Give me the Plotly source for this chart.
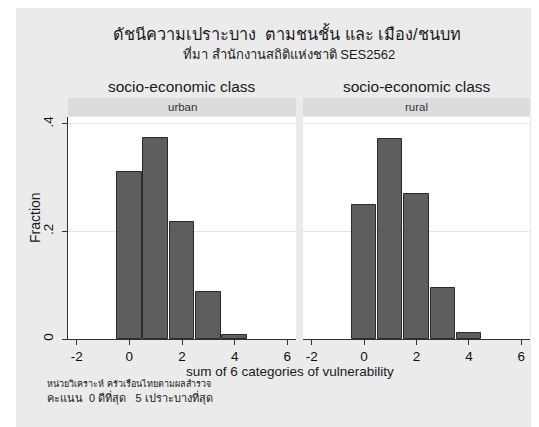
import plotly.graph_objects as go

# ---- data ----
scores = [0, 1, 2, 3, 4]
urban_frac = [0.311, 0.374, 0.217, 0.087, 0.008]
rural_frac = [0.249, 0.372, 0.269, 0.095, 0.012]
panels = ["urban", "rural"]
x_ticks = [-2, 0, 2, 4, 6]
x_ticktext = ["-2", "0", "2", "4", "6"]
y_ticks = [0, 0.2, 0.4]
y_ticktext = ["0", ".2", ".4"]

title_text = "ดัชนีความเปราะบาง  ตามชนชั้น และ เมือง/ชนบท"
subtitle_text = "ที่มา สำนักงานสถิติแห่งชาติ SES2562"
by_text = "socio-economic class"
xtitle_text = "sum of 6 categories of vulnerability"
note1 = "หน่วยวิเคราะห์ ครัวเรือนไทยตามผลสำรวจ"
note2 = "คะแนน  0 ดีที่สุด   5 เปราะบางที่สุด"

FONT = "Liberation Sans, Arial, Noto Sans, sans-serif"
# page body has an 8px margin; figure is placed at (8, 8) in the window
OX, OY = 8, 8
W, H = 531, 419
PL, PR, PT, PB = 68, 530, 117, 339   # plot area in window pixels
ML, MR, MT, MB = PL - OX, W - (PR - OX), PT - OY, H - (PB - OY)
PW = W - ML - MR
PH = H - MT - MB

def px_x(p):
    return (p - OX - ML) / PW

def px_y(p):
    return (PB - p) / PH

fig = go.Figure()
bar_style = dict(marker=dict(color="#5e5e5e", line=dict(color="#2b2b2b", width=1)),
                 width=0.93, showlegend=False, hoverinfo="skip")
fig.add_trace(go.Bar(x=scores, y=urban_frac, xaxis="x", yaxis="y", **bar_style))
fig.add_trace(go.Bar(x=scores, y=rural_frac, xaxis="x2", yaxis="y2", **bar_style))

left_dom = [0, px_x(296)]
right_dom = [px_x(303), 1]

xaxis_common = dict(range=[-2.33, 6.33], tickvals=x_ticks, ticktext=x_ticktext,
                    ticks="outside", ticklen=5,
                    tickwidth=1.2, tickcolor="#333", showline=True, linecolor="#333",
                    linewidth=1.2, showgrid=False, zeroline=False, automargin=False,
                    tickfont=dict(family=FONT, size=13.5, color="#111"))
yaxis_common = dict(range=[0, 0.413], tickvals=y_ticks, ticktext=y_ticktext,
                    showgrid=True, gridcolor="#e4e4e4", gridwidth=1, zeroline=False,
                    automargin=False)

fig.update_layout(
    width=W, height=H,
    margin=dict(l=ML, r=MR, t=MT, b=MB, pad=0),
    paper_bgcolor="#ebebeb", plot_bgcolor="white",
    bargap=0,
    xaxis=dict(domain=left_dom, anchor="y", **xaxis_common),
    xaxis2=dict(domain=right_dom, anchor="y2", **xaxis_common),
    yaxis=dict(domain=[0, 1], anchor="x", ticks="outside", ticklen=5, tickwidth=1.2,
               tickcolor="#333", showline=True, linecolor="#333", linewidth=1.2,
               tickangle=-90, ticklabelstandoff=4,
               tickfont=dict(family=FONT, size=13.5, color="#111"),
               **yaxis_common),
    yaxis2=dict(domain=[0, 1], anchor="x2", showticklabels=False, ticks="",
                showline=False, **yaxis_common),
    font=dict(family=FONT, color="#222"),
)

shapes = [
    # white left border of the picture (window x 8..16)
    dict(type="rect", xref="paper", yref="paper", x0=px_x(0), x1=px_x(16),
         y0=px_y(H + OY + 10), y1=px_y(0), fillcolor="white", line=dict(width=0), layer="above"),
]
for dom in (left_dom, right_dom):
    shapes.append(dict(type="rect", xref="paper", yref="paper", x0=dom[0], x1=dom[1],
                       y0=px_y(116), y1=px_y(98), fillcolor="#dcdcdc",
                       line=dict(width=0), layer="below"))
fig.update_layout(shapes=shapes)

ann = []
ann.append(dict(text=title_text, x=px_x(287), y=px_y(33), xref="paper", yref="paper",
                showarrow=False, xanchor="center", yanchor="middle",
                font=dict(family=FONT, size=16.3, color="#1a1a1a")))
ann.append(dict(text=subtitle_text, x=px_x(289), y=px_y(54), xref="paper", yref="paper",
                showarrow=False, xanchor="center", yanchor="middle",
                font=dict(family=FONT, size=13, color="#1a1a1a")))
for dom, name in zip((left_dom, right_dom), panels):
    cx = (dom[0] + dom[1]) / 2
    ann.append(dict(text=by_text, x=cx, y=px_y(86), xref="paper", yref="paper",
                    showarrow=False, xanchor="center", yanchor="middle",
                    font=dict(family=FONT, size=15.5, color="#1a1a1a")))
    ann.append(dict(text=name, x=cx, y=px_y(107), xref="paper", yref="paper",
                    showarrow=False, xanchor="center", yanchor="middle",
                    font=dict(family=FONT, size=11.5, color="#333")))
ann.append(dict(text=xtitle_text, x=px_x(290), y=px_y(371), xref="paper", yref="paper",
                showarrow=False, xanchor="center", yanchor="middle",
                font=dict(family=FONT, size=13.5, color="#1a1a1a")))
ann.append(dict(text="Fraction", x=px_x(35), y=px_y(218), xref="paper", yref="paper",
                showarrow=False, xanchor="center", yanchor="middle", textangle=-90,
                font=dict(family=FONT, size=14, color="#1a1a1a")))
ann.append(dict(text=note1, x=px_x(45), y=px_y(383), xref="paper", yref="paper",
                showarrow=False, xanchor="left", yanchor="middle",
                font=dict(family=FONT, size=9, color="#1a1a1a")))
ann.append(dict(text=note2, x=px_x(45), y=px_y(397), xref="paper", yref="paper",
                showarrow=False, xanchor="left", yanchor="middle",
                font=dict(family=FONT, size=11, color="#1a1a1a")))
fig.update_layout(annotations=ann)

fig.write_html("out.html")
